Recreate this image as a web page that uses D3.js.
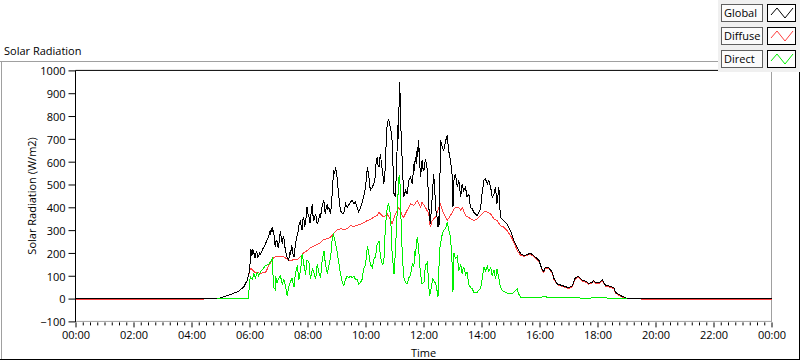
<!DOCTYPE html>
<html><head><meta charset="utf-8">
<script src="https://cdn.jsdelivr.net/npm/d3@7/dist/d3.min.js"></script>
<style>
html,body{margin:0;padding:0;background:#fff;}
svg{display:block;}
text{font-family:"Open Sans","Liberation Sans",sans-serif;font-size:11px;fill:#000;}
</style></head>
<body>
<svg id="chart" width="800" height="361"></svg>
<script>
// ---- data (time in minutes since 00:00, value in W/m2) ----
const seriesNames = ["Global", "Diffuse", "Direct"];
const seriesColors = ["#000000", "#ff4040", "#00f000"];
const yTicks = [-100,0,100,200,300,400,500,600,700,800,900,1000];
const xMajorTicks = [0,120,240,360,480,600,720,840,960,1080,1200,1320,1440];

const globalData = [
[0,0],[292,0],[300,3],[314,13],[327,23],[337,32],[348,50],[355,79],[359,110],[362,170],[363,215],[364,185],[365,212],[366,190],[367,218],[368,195],[369,205],[370,178],[371,198],[372,180],[374,205],[376,200],[377,182],[379,185],[381,200],[383,195],[387,215],[393,240],[399,270],[403,298],[404,280],[405,310],[406,290],[407,313],[408,295],[410,300],[412,240],[414,225],[415,255],[417,250],[418,228],[420,225],[422,260],[424,298],[426,260],[428,240],[430,275],[431,269],[433,230],[435,205],[438,181],[441,167],[443,200],[445,195],[447,230],[448,225],[450,195],[452,181],[455,240],[458,270],[461,298],[463,330],[466,342],[467,310],[469,300],[470,340],[472,357],[474,320],[476,327],[478,380],[479,400],[481,370],[483,357],[485,330],[486,342],[488,390],[490,415],[491,370],[493,342],[495,360],[497,372],[499,335],[500,328],[503,342],[505,365],[507,357],[509,390],[510,400],[512,420],[514,430],[515,395],[517,372],[519,405],[521,415],[522,390],[524,400],[526,385],[528,372],[531,459],[534,561],[536,545],[538,576],[541,532],[545,444],[548,386],[552,372],[555,372],[559,415],[562,400],[569,422],[572,430],[576,415],[579,422],[583,400],[586,379],[590,400],[596,444],[600,488],[604,576],[607,532],[610,474],[614,488],[617,503],[619,520],[621,547],[622,600],[624,620],[626,585],[628,576],[629,610],[631,634],[633,590],[635,561],[638,503],[641,576],[643,700],[645,766],[648,788],[650,760],[652,751],[655,693],[659,459],[662,444],[666,693],[667,760],[668,700],[669,825],[670,870],[671,949],[672,825],[674,700],[676,605],[679,444],[683,474],[686,459],[690,518],[693,532],[697,503],[700,590],[701,560],[703,620],[705,590],[707,664],[708,620],[710,693],[712,600],[714,532],[717,605],[719,570],[721,561],[724,612],[728,561],[731,400],[734,327],[738,444],[741,547],[745,415],[746,380],[748,357],[749,330],[750,313],[751,360],[752,320],[753,342],[755,693],[759,664],[762,649],[766,693],[769,715],[772,649],[776,605],[779,547],[781,400],[783,518],[786,547],[790,488],[793,518],[797,444],[800,503],[803,474],[807,488],[810,444],[814,459],[817,400],[821,393],[824,379],[831,364],[838,393],[841,459],[845,518],[848,525],[852,503],[855,518],[859,488],[862,444],[866,459],[869,488],[872,415],[876,488],[879,357],[886,342],[893,327],[900,298],[907,254],[914,225],[921,196],[928,189],[935,193],[941,199],[945,193],[952,181],[959,167],[966,123],[969,120],[972,137],[979,135],[986,117],[990,88],[997,64],[1007,57],[1021,47],[1028,57],[1034,91],[1041,97],[1048,82],[1055,76],[1062,67],[1069,72],[1072,79],[1076,69],[1083,70],[1090,82],[1097,57],[1107,54],[1114,47],[1117,28],[1124,18],[1131,10],[1138,3],[1148,0],[1440,0]
];

const diffuseData = [
[0,-6],[264,-6],[265,0],[292,0],[300,3],[314,13],[327,23],[337,32],[348,50],[355,79],[359,110],[362,133],[366,127],[369,118],[372,115],[379,112],[386,112],[393,113],[400,145],[406,167],[410,181],[417,185],[424,186],[431,183],[438,172],[445,165],[452,172],[459,170],[466,185],[472,200],[479,210],[486,222],[493,230],[500,238],[507,245],[514,260],[521,262],[528,270],[534,285],[541,300],[548,306],[555,303],[562,306],[569,320],[576,316],[583,322],[590,326],[596,332],[604,342],[610,347],[617,357],[624,365],[628,379],[631,371],[638,357],[645,371],[652,342],[655,327],[662,371],[669,400],[676,364],[679,357],[686,386],[693,415],[700,408],[707,430],[714,400],[717,422],[724,400],[731,371],[734,313],[738,342],[745,357],[752,400],[755,415],[762,371],[769,342],[776,364],[783,393],[786,400],[793,400],[797,386],[800,400],[807,364],[814,355],[824,342],[831,349],[838,364],[845,379],[848,383],[859,371],[866,349],[872,342],[879,320],[886,313],[893,298],[900,276],[907,247],[914,210],[921,189],[928,185],[935,189],[941,195],[945,189],[952,177],[959,163],[966,119],[969,116],[972,133],[979,131],[986,113],[990,84],[997,60],[1007,53],[1021,43],[1028,53],[1034,87],[1041,93],[1048,78],[1055,72],[1062,63],[1069,68],[1072,75],[1076,65],[1083,66],[1090,78],[1097,53],[1107,50],[1114,43],[1117,25],[1124,15],[1131,7],[1138,1],[1148,0],[1171,0],[1172,-6],[1440,-6]
];

const directData = [
[293,0],[358,2],[360,75],[362,94],[366,85],[369,108],[372,90],[376,115],[379,100],[383,120],[386,125],[393,145],[400,150],[403,160],[407,174],[408,130],[410,50],[413,40],[414,100],[417,70],[421,90],[424,100],[428,60],[431,85],[435,50],[438,13],[441,50],[445,75],[448,90],[452,50],[455,110],[459,145],[462,80],[466,130],[469,196],[472,155],[476,105],[479,170],[483,160],[486,85],[490,130],[493,115],[497,85],[500,150],[503,120],[507,90],[510,160],[514,210],[517,152],[521,108],[524,140],[528,185],[531,260],[534,280],[538,240],[541,210],[545,152],[548,110],[552,72],[555,57],[559,85],[562,98],[565,92],[569,98],[572,92],[576,98],[579,85],[583,85],[586,64],[590,72],[593,85],[596,130],[600,145],[604,232],[607,195],[610,150],[614,135],[617,170],[621,185],[624,240],[628,250],[631,185],[635,150],[638,160],[641,313],[645,400],[648,415],[652,360],[655,200],[659,108],[662,210],[666,400],[669,532],[671,540],[672,440],[676,200],[679,94],[683,70],[686,64],[690,92],[693,100],[697,152],[700,140],[702,210],[703,185],[707,269],[710,220],[712,150],[714,108],[717,64],[721,72],[724,145],[728,160],[731,50],[733,13],[737,60],[739,85],[744,70],[746,60],[748,35],[750,6],[753,203],[755,240],[759,284],[762,300],[766,310],[769,335],[772,305],[776,270],[779,160],[781,30],[783,200],[786,175],[790,185],[793,120],[797,150],[800,110],[803,140],[807,105],[810,115],[814,60],[817,50],[821,42],[824,28],[831,28],[838,45],[841,80],[845,137],[848,120],[852,142],[855,120],[859,137],[862,100],[866,125],[869,85],[872,130],[876,90],[879,50],[883,35],[890,28],[896,22],[903,20],[910,35],[914,42],[917,20],[921,6],[928,4],[941,3],[964,4],[966,8],[974,8],[976,3],[1034,3],[1041,5],[1045,2],[1086,3],[1142,1]
];

const allSeries = [globalData, diffuseData, directData];
const drawOrder = [1, 0, 2];

// ---- layout ----
const svg = d3.select("#chart");
const X0 = 75.5, X1 = 771.5, YT = 70.4, YB = 321.4;
const x = d3.scaleLinear().domain([0, 1440]).range([X0, X1]);
const y = d3.scaleLinear().domain([-100, 1000]).range([YB, YT]);

svg.append("rect").attr("width", 800).attr("height", 361).attr("fill", "#fff");

// outer panel frame
svg.append("line").attr("x1", 0).attr("x2", 718).attr("y1", 61.5).attr("y2", 61.5).attr("stroke", "#a0a0a0");
svg.append("line").attr("x1", 1.5).attr("x2", 1.5).attr("y1", 61.5).attr("y2", 360).attr("stroke", "#a0a0a0");
svg.append("line").attr("x1", 0).attr("x2", 800).attr("y1", 359.5).attr("y2", 359.5).attr("stroke", "#000");
svg.append("line").attr("x1", 799.5).attr("x2", 799.5).attr("y1", 60).attr("y2", 360).attr("stroke", "#000");

// title
svg.append("text").attr("x", 4).attr("y", 55).text("Solar Radiation");

// plot frame
svg.append("line").attr("x1", X1).attr("x2", X1).attr("y1", YT).attr("y2", YB + 0.5).attr("stroke", "#a0a0a0");
svg.append("line").attr("x1", X0).attr("x2", X1).attr("y1", YB).attr("y2", YB).attr("stroke", "#a0a0a0");

// series
const line = d3.line().x(d => x(d[0])).y(d => y(d[1]));
const plotG = svg.append("g");
drawOrder.forEach(i => {
  plotG.append("path").datum(allSeries[i])
    .attr("d", line)
    .attr("fill", "none")
    .attr("stroke", seriesColors[i])
    .attr("stroke-width", 1)
    .attr("shape-rendering", "crispEdges");
});

svg.append("line").attr("x1", X0).attr("x2", X1).attr("y1", YT).attr("y2", YT).attr("stroke", "#000");
svg.append("line").attr("x1", X0).attr("x2", X0).attr("y1", YT).attr("y2", YB + 0.5).attr("stroke", "#000");

// y axis
const yAxis = d3.axisLeft(y).tickValues(yTicks).tickSize(7).tickPadding(3).tickSizeOuter(0).tickFormat(d3.format("d"));
const yg = svg.append("g").attr("transform", `translate(${X0},0)`).call(yAxis);
yg.select(".domain").remove();
yg.selectAll("line").attr("stroke", "#000");
yg.selectAll("text").attr("font-size", 11).attr("font-family", null).attr("fill", "#000").attr("dy", "0.4em");

// x axis minor ticks (every 15 min)
const minorTicks = d3.range(0, 1441, 15).filter(v => v % 120 !== 0);
const xMinor = d3.axisBottom(x).tickValues(minorTicks).tickSize(3).tickFormat("").tickSizeOuter(0);
const xmg = svg.append("g").attr("transform", `translate(0,${YB + 1})`).call(xMinor);
xmg.select(".domain").remove();
xmg.selectAll("line").attr("stroke", "#000");

const fmt = m => { const h = Math.floor(m / 60) % 24, mm = m % 60; return String(h).padStart(2, "0") + ":" + String(mm).padStart(2, "0"); };
const xAxis = d3.axisBottom(x).tickValues(xMajorTicks).tickSize(5).tickPadding(4).tickFormat(fmt).tickSizeOuter(0);
const xg = svg.append("g").attr("transform", `translate(0,${YB + 1})`).call(xAxis);
xg.select(".domain").remove();
xg.selectAll("line").attr("stroke", "#000");
xg.selectAll("text").attr("font-size", 11).attr("font-family", null).attr("fill", "#000");

// axis titles
svg.append("text").attr("x", (X0 + X1) / 2).attr("y", 357).attr("text-anchor", "middle").text("Time");
svg.append("text").attr("transform", `translate(36,${(YT + YB) / 2}) rotate(-90)`).attr("text-anchor", "middle").text("Solar Radiation (W/m2)");

// legend
const lg = svg.append("g");
lg.append("rect").attr("x", 718).attr("y", 0).attr("width", 82).attr("height", 72).attr("fill", "#f0f0f0");
seriesNames.forEach((name, i) => {
  const ty = 4 + i * 23;
  lg.append("rect").attr("x", 721.5).attr("y", ty + 0.5).attr("width", 41).attr("height", 17)
    .attr("fill", "#fbfbfb").attr("stroke", "#606060");
  lg.append("text").attr("x", 724).attr("y", ty + 13).attr("font-size", 11.5).text(name);
  lg.append("rect").attr("x", 767.5).attr("y", ty + 0.5).attr("width", 28).attr("height", 17)
    .attr("fill", "#fff").attr("stroke", "#000");
  const sx = 768, sy = ty;
  lg.append("path")
    .attr("d", `M${sx + 3},${sy + 11} L${sx + 9},${sy + 4} L${sx + 17},${sy + 14} L${sx + 25},${sy + 4}`)
    .attr("fill", "none").attr("stroke", seriesColors[i]).attr("stroke-width", 1);
});
</script>
</body></html>
